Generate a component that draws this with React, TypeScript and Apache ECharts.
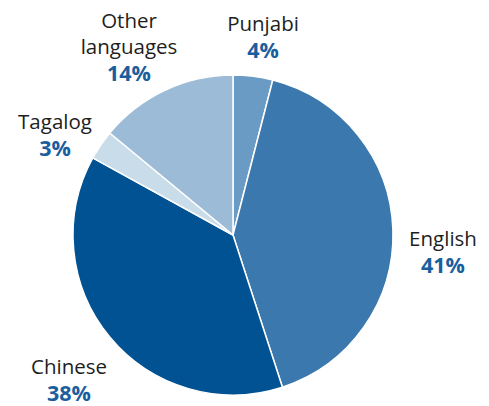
import React, { useEffect, useRef } from "react";
import * as echarts from "echarts";

const languages = ["Punjabi", "English", "Chinese", "Tagalog", "Other\nlanguages"];
const shares = [4, 41, 38, 3, 14];
const sliceColors = ["#6a9bc4", "#3a78ad", "#005293", "#c9dce9", "#9cbbd6"];
const labelCenters: [number, number][] = [
  [263, 36],
  [443, 251],
  [69, 379],
  [55, 134],
  [129, 46],
];

export default function App() {
  const ref = useRef<HTMLDivElement>(null);
  useEffect(() => {
    document.body.style.margin = "0";
    const chart = echarts.init(ref.current!, null, { renderer: "svg" });
    chart.setOption({
      animation: false,
      backgroundColor: "#ffffff",
      series: [
        {
          type: "pie",
          center: [233, 235],
          radius: 160,
          startAngle: 90,
          clockwise: true,
          silent: true,
          itemStyle: { borderColor: "#ffffff", borderWidth: 1.5 },
          labelLine: { show: false },
          label: {
            show: true,
            position: "outside",
            overflow: "none",
            edgeDistance: 0,
            bleedMargin: 0,
            formatter: "{n|{b}}\n{p|{c}%}",
            rich: {
              n: {
                fontFamily: "Open Sans",
                fontSize: 20.5,
                color: "#1e1e1e",
                lineHeight: 26,
                align: "center",
              },
              p: {
                fontFamily: "Open Sans",
                fontSize: 21.5,
                fontWeight: "bold",
                color: "#1a5e9e",
                lineHeight: 26,
                align: "center",
              },
            },
          },
          labelLayout: (params: any) => {
            const c = labelCenters[params.dataIndex];
            return { x: c[0], y: c[1], align: "center", verticalAlign: "middle" };
          },
          data: languages.map((name, i) => ({
            name,
            value: shares[i],
            itemStyle: { color: sliceColors[i] },
          })),
        },
      ],
    });
    return () => chart.dispose();
  }, []);
  return <div ref={ref} style={{ width: 489, height: 406 }} />;
}
